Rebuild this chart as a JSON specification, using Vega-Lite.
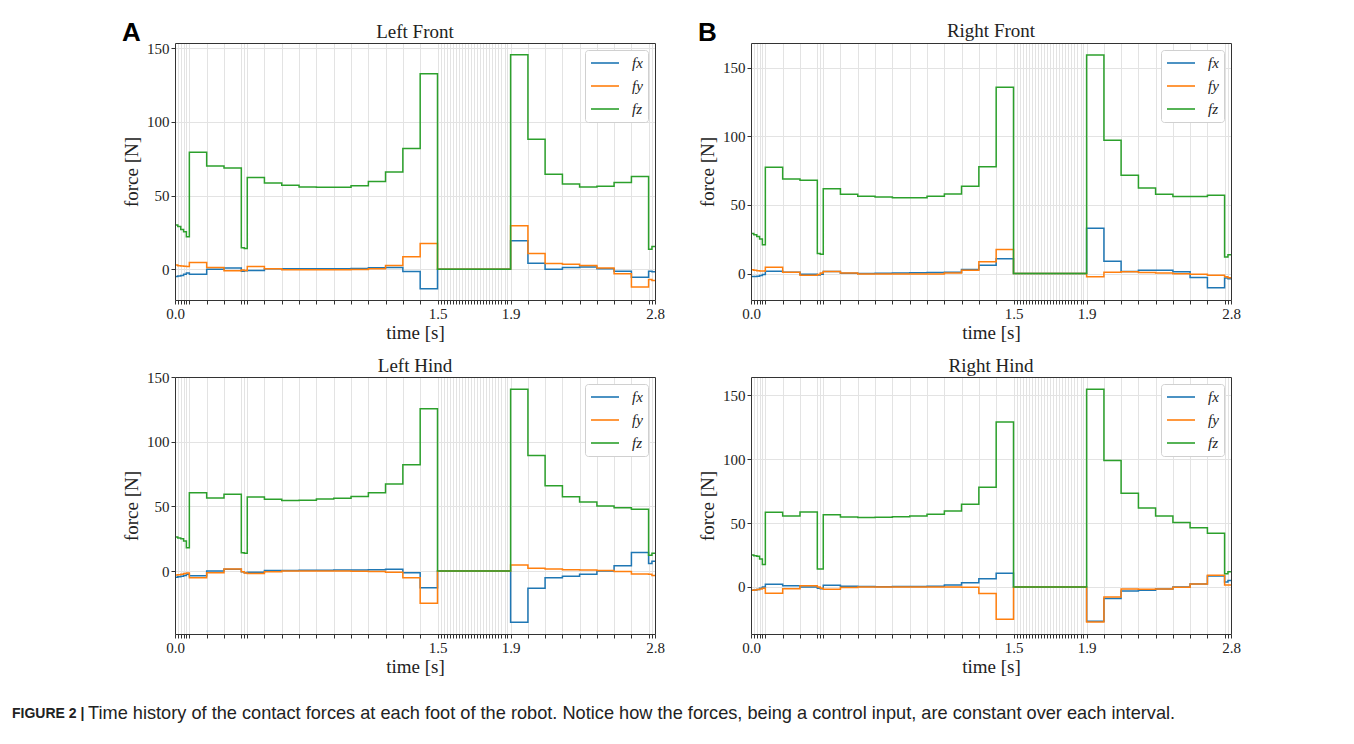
{
  "$schema": "https://vega.github.io/schema/vega-lite/v6.json",
  "background": "white",
  "padding": {"left": 12, "top": 19, "right": 5, "bottom": 8},
  "datasets": {
    "forces": [
      {"p":"LF","t":0,"fx":-5,"fy":2.8,"fz":30},
      {"p":"LF","t":0.016,"fx":-4.6,"fy":2.4,"fz":29},
      {"p":"LF","t":0.033,"fx":-4.2,"fy":2.2,"fz":27},
      {"p":"LF","t":0.049,"fx":-3.4,"fy":2,"fz":25.5},
      {"p":"LF","t":0.065,"fx":-2.5,"fy":1.8,"fz":22},
      {"p":"LF","t":0.082,"fx":-3.4,"fy":4.5,"fz":79.4},
      {"p":"LF","t":0.181,"fx":0,"fy":1.1,"fz":70.1},
      {"p":"LF","t":0.28,"fx":0.9,"fy":-1.1,"fz":68.8},
      {"p":"LF","t":0.379,"fx":-1.4,"fy":-0.5,"fz":14.5},
      {"p":"LF","t":0.396,"fx":-1,"fy":-0.8,"fz":14},
      {"p":"LF","t":0.413,"fx":-0.8,"fy":1.8,"fz":62.2},
      {"p":"LF","t":0.511,"fx":0.3,"fy":0.3,"fz":58.6},
      {"p":"LF","t":0.61,"fx":0.3,"fy":-0.3,"fz":57},
      {"p":"LF","t":0.709,"fx":0.3,"fy":-0.4,"fz":55.8},
      {"p":"LF","t":0.808,"fx":0.4,"fy":-0.4,"fz":55.6},
      {"p":"LF","t":0.907,"fx":0.4,"fy":-0.3,"fz":55.7},
      {"p":"LF","t":1.006,"fx":0.5,"fy":-0.2,"fz":56.7},
      {"p":"LF","t":1.105,"fx":1,"fy":0.3,"fz":59.5},
      {"p":"LF","t":1.203,"fx":1.2,"fy":2.5,"fz":66},
      {"p":"LF","t":1.302,"fx":-1.5,"fy":8.4,"fz":82},
      {"p":"LF","t":1.401,"fx":-13.2,"fy":17.5,"fz":132.8},
      {"p":"LF","t":1.5,"fx":0,"fy":0,"fz":0},
      {"p":"LF","t":1.9,"fx":19.3,"fy":29.5,"fz":145.7},
      {"p":"LF","t":2.008,"fx":4.1,"fy":10.7,"fz":88.3},
      {"p":"LF","t":2.115,"fx":0,"fy":3.8,"fz":64.5},
      {"p":"LF","t":2.223,"fx":1.1,"fy":3.3,"fz":57.9},
      {"p":"LF","t":2.33,"fx":1.5,"fy":2.5,"fz":55.8},
      {"p":"LF","t":2.438,"fx":0.3,"fy":0.8,"fz":56.3},
      {"p":"LF","t":2.545,"fx":-1.4,"fy":-3,"fz":58.8},
      {"p":"LF","t":2.653,"fx":-5.4,"fy":-12,"fz":62.9},
      {"p":"LF","t":2.76,"fx":-1.3,"fy":-7,"fz":13.6},
      {"p":"LF","t":2.781,"fx":-1.8,"fy":-7.7,"fz":15.4},
      {"p":"LF","t":2.8,"fx":-1.8,"fy":-7.7,"fz":15.4},

      {"p":"RF","t":0,"fx":-2.2,"fy":2.7,"fz":29.1},
      {"p":"RF","t":0.016,"fx":-2.2,"fy":2.3,"fz":28.2},
      {"p":"RF","t":0.033,"fx":-2,"fy":2,"fz":27},
      {"p":"RF","t":0.049,"fx":-1.5,"fy":1.9,"fz":25.2},
      {"p":"RF","t":0.065,"fx":-0.8,"fy":1.9,"fz":20.9},
      {"p":"RF","t":0.082,"fx":1.7,"fy":4.6,"fz":77.4},
      {"p":"RF","t":0.181,"fx":1,"fy":1,"fz":68.9},
      {"p":"RF","t":0.28,"fx":-0.5,"fy":-1.2,"fz":68},
      {"p":"RF","t":0.379,"fx":-1,"fy":-0.8,"fz":14.6},
      {"p":"RF","t":0.396,"fx":-0.5,"fy":0.3,"fz":14.1},
      {"p":"RF","t":0.413,"fx":1.5,"fy":1.5,"fz":61.7},
      {"p":"RF","t":0.511,"fx":0.2,"fy":0.3,"fz":57.8},
      {"p":"RF","t":0.61,"fx":0.1,"fy":-0.3,"fz":56.3},
      {"p":"RF","t":0.709,"fx":0.2,"fy":-0.3,"fz":55.8},
      {"p":"RF","t":0.808,"fx":0.3,"fy":-0.3,"fz":55.3},
      {"p":"RF","t":0.907,"fx":0.5,"fy":-0.3,"fz":55.3},
      {"p":"RF","t":1.006,"fx":0.8,"fy":-0.3,"fz":56.3},
      {"p":"RF","t":1.105,"fx":1,"fy":0.3,"fz":58},
      {"p":"RF","t":1.203,"fx":2.9,"fy":2.4,"fz":63.6},
      {"p":"RF","t":1.302,"fx":6.1,"fy":8.5,"fz":77.9},
      {"p":"RF","t":1.401,"fx":10.7,"fy":17.5,"fz":135.7},
      {"p":"RF","t":1.5,"fx":0,"fy":0,"fz":0},
      {"p":"RF","t":1.9,"fx":33,"fy":-2.4,"fz":159.2},
      {"p":"RF","t":2.008,"fx":9,"fy":1,"fz":97.1},
      {"p":"RF","t":2.115,"fx":1.5,"fy":1.2,"fz":71.6},
      {"p":"RF","t":2.223,"fx":2.4,"fy":0.8,"fz":62.4},
      {"p":"RF","t":2.33,"fx":2.4,"fy":0.3,"fz":57.8},
      {"p":"RF","t":2.438,"fx":1.2,"fy":-0.2,"fz":56.1},
      {"p":"RF","t":2.545,"fx":-2.9,"fy":-0.5,"fz":56.2},
      {"p":"RF","t":2.653,"fx":-10.4,"fy":-1.3,"fz":57},
      {"p":"RF","t":2.76,"fx":-3.2,"fy":-2.4,"fz":12.1},
      {"p":"RF","t":2.781,"fx":-3.9,"fy":-3,"fz":13.6},
      {"p":"RF","t":2.8,"fx":-3.9,"fy":-3,"fz":13.6},

      {"p":"LH","t":0,"fx":-4.9,"fy":-3.1,"fz":26.3},
      {"p":"LH","t":0.016,"fx":-4.5,"fy":-2.8,"fz":25.5},
      {"p":"LH","t":0.033,"fx":-4,"fy":-2.5,"fz":25},
      {"p":"LH","t":0.049,"fx":-3.5,"fy":-2,"fz":23.2},
      {"p":"LH","t":0.065,"fx":-2.5,"fy":-1.5,"fz":18},
      {"p":"LH","t":0.082,"fx":-3.6,"fy":-5.2,"fz":60.6},
      {"p":"LH","t":0.181,"fx":0,"fy":-1.3,"fz":56.4},
      {"p":"LH","t":0.28,"fx":1.3,"fy":1.5,"fz":59.3},
      {"p":"LH","t":0.379,"fx":-0.5,"fy":-0.5,"fz":14.2},
      {"p":"LH","t":0.396,"fx":-1.3,"fy":-1.5,"fz":13.8},
      {"p":"LH","t":0.413,"fx":-1,"fy":-2,"fz":57.2},
      {"p":"LH","t":0.511,"fx":0.3,"fy":-0.5,"fz":55.4},
      {"p":"LH","t":0.61,"fx":0.4,"fy":0,"fz":54.6},
      {"p":"LH","t":0.709,"fx":0.5,"fy":0,"fz":54.8},
      {"p":"LH","t":0.808,"fx":0.6,"fy":0,"fz":55.7},
      {"p":"LH","t":0.907,"fx":0.8,"fy":0,"fz":56.2},
      {"p":"LH","t":1.006,"fx":0.8,"fy":-0.2,"fz":57.7},
      {"p":"LH","t":1.105,"fx":1,"fy":-0.3,"fz":60.6},
      {"p":"LH","t":1.203,"fx":1.3,"fy":-1,"fz":67.3},
      {"p":"LH","t":1.302,"fx":-1.3,"fy":-5.2,"fz":82.2},
      {"p":"LH","t":1.401,"fx":-12.9,"fy":-25,"fz":125.5},
      {"p":"LH","t":1.5,"fx":0,"fy":0,"fz":0},
      {"p":"LH","t":1.9,"fx":-39.7,"fy":4.6,"fz":140.5},
      {"p":"LH","t":2.008,"fx":-13.4,"fy":2.1,"fz":89.4},
      {"p":"LH","t":2.115,"fx":-5.2,"fy":1.5,"fz":66},
      {"p":"LH","t":2.223,"fx":-4.1,"fy":1,"fz":57.5},
      {"p":"LH","t":2.33,"fx":-2.6,"fy":0.7,"fz":53.4},
      {"p":"LH","t":2.438,"fx":0,"fy":0.3,"fz":50.3},
      {"p":"LH","t":2.545,"fx":4.1,"fy":-0.3,"fz":49},
      {"p":"LH","t":2.653,"fx":14.4,"fy":-2.3,"fz":47.7},
      {"p":"LH","t":2.76,"fx":5.9,"fy":-2.5,"fz":12.1},
      {"p":"LH","t":2.781,"fx":7.5,"fy":-3.5,"fz":13.7},
      {"p":"LH","t":2.8,"fx":7.5,"fy":-3.5,"fz":13.7},

      {"p":"RH","t":0,"fx":-2.6,"fy":-2.6,"fz":25},
      {"p":"RH","t":0.016,"fx":-2.3,"fy":-2.3,"fz":24.5},
      {"p":"RH","t":0.033,"fx":-2,"fy":-2,"fz":24},
      {"p":"RH","t":0.049,"fx":-1,"fy":-1.5,"fz":21.9},
      {"p":"RH","t":0.065,"fx":0,"fy":-1,"fz":17.5},
      {"p":"RH","t":0.082,"fx":2.1,"fy":-5,"fz":58.4},
      {"p":"RH","t":0.181,"fx":1,"fy":-1.3,"fz":55.6},
      {"p":"RH","t":0.28,"fx":0,"fy":1,"fz":58.7},
      {"p":"RH","t":0.379,"fx":-1,"fy":0,"fz":14.1},
      {"p":"RH","t":0.396,"fx":-1.3,"fy":-1,"fz":14},
      {"p":"RH","t":0.413,"fx":1.3,"fy":-1.8,"fz":56.6},
      {"p":"RH","t":0.511,"fx":0.5,"fy":-0.5,"fz":54.8},
      {"p":"RH","t":0.61,"fx":0.3,"fy":0,"fz":54.3},
      {"p":"RH","t":0.709,"fx":0.2,"fy":0,"fz":54.5},
      {"p":"RH","t":0.808,"fx":0.3,"fy":0,"fz":55},
      {"p":"RH","t":0.907,"fx":0.3,"fy":0,"fz":55.6},
      {"p":"RH","t":1.006,"fx":0.5,"fy":0,"fz":56.9},
      {"p":"RH","t":1.105,"fx":1.6,"fy":0,"fz":59.5},
      {"p":"RH","t":1.203,"fx":3.4,"fy":-0.3,"fz":64.7},
      {"p":"RH","t":1.302,"fx":6.5,"fy":-5.2,"fz":78},
      {"p":"RH","t":1.401,"fx":10.7,"fy":-25.3,"fz":129.1},
      {"p":"RH","t":1.5,"fx":0,"fy":0,"fz":0},
      {"p":"RH","t":1.9,"fx":-26.9,"fy":-27.4,"fz":154.7},
      {"p":"RH","t":2.008,"fx":-9.1,"fy":-7.8,"fz":98.9},
      {"p":"RH","t":2.115,"fx":-3.1,"fy":-1.6,"fz":73.3},
      {"p":"RH","t":2.223,"fx":-2.6,"fy":-1.7,"fz":61.8},
      {"p":"RH","t":2.33,"fx":-1.6,"fy":-1.6,"fz":55.6},
      {"p":"RH","t":2.438,"fx":0,"fy":-0.3,"fz":50.4},
      {"p":"RH","t":2.545,"fx":2.3,"fy":2.3,"fz":46.4},
      {"p":"RH","t":2.653,"fx":8.6,"fy":9.1,"fz":42},
      {"p":"RH","t":2.76,"fx":3.9,"fy":1.6,"fz":10.4},
      {"p":"RH","t":2.781,"fx":5,"fy":1.6,"fz":12},
      {"p":"RH","t":2.8,"fx":5,"fy":1.6,"fz":12}
    ]
  },
  "title": {
    "text": "Time history of the contact forces at each foot of the robot. Notice how the forces, being a control input, are constant over each interval.",
    "orient": "bottom", "anchor": "start", "frame": "group",
    "font": "Liberation Sans", "fontSize": 18.2, "fontWeight": "normal", "color": "#222222",
    "dx": -87, "dy": -16, "offset": 0
  },
  "vconcat": [
    {
      "title": {
        "text": "FIGURE 2 |", "orient": "bottom", "anchor": "start", "frame": "group",
        "font": "Liberation Sans", "fontSize": 14, "fontWeight": "bold", "color": "#222222",
        "dx": -163, "offset": 30
      },
      "spacing": 13,
      "resolve": {"scale": {"x": "independent", "y": "independent", "color": "independent"}, "legend": {"color": "independent"}},
      "vconcat": [
        {
          "hconcat": [
            {
              "title": {"text": "A", "anchor": "start", "frame": "bounds", "font": "Liberation Sans", "fontSize": 26, "fontWeight": "bold", "color": "#000000", "dy": 23, "offset": 0},
              "resolve": {"scale": {"x": "independent", "y": "independent", "color": "independent"}, "legend": {"color": "independent"}},
              "vconcat": [
                {
                  "width": 480, "height": 257,
                  "title": {"text": "Left Front", "offset": -1},
                  "data": {"name": "forces"},
                  "transform": [{"filter": "datum.p === 'LF'"}, {"fold": ["fx", "fy", "fz"], "as": ["s", "v"]}],
                  "mark": {"type": "line", "interpolate": "step-after", "strokeWidth": 1.5},
                  "encoding": {
                    "x": {"field": "t", "type": "quantitative",
                      "scale": {"domain": [0, 1.5, 1.9, 2.8], "range": [0, 262.5, 335.6, 480]},
                      "axis": {"title": "time [s]", "values": [0,0.016,0.033,0.049,0.065,0.082,0.181,0.28,0.379,0.396,0.413,0.511,0.61,0.709,0.808,0.907,1.006,1.105,1.203,1.302,1.401,1.5,1.517,1.533,1.55,1.567,1.583,1.6,1.617,1.633,1.65,1.667,1.683,1.7,1.717,1.733,1.75,1.767,1.783,1.8,1.817,1.833,1.85,1.867,1.883,1.9,2.008,2.115,2.223,2.33,2.438,2.545,2.653,2.76,2.781,2.8],
                        "gridColor": {"condition": {"test": "datum.value === 0 || datum.value === 2.8", "value": "transparent"}, "value": "#e3e3e3"},
                        "labelExpr": "datum.value === 0 || datum.value === 1.5 || datum.value === 1.9 || datum.value === 2.8 ? format(datum.value, '.1f') : ''"}},
                    "y": {"field": "v", "type": "quantitative",
                      "scale": {"domain": [-20.9, 153.6], "nice": false, "zero": false},
                      "axis": {"title": "force [N]", "values": [0, 50, 100, 150]}},
                    "color": {"field": "s", "type": "nominal",
                      "scale": {"domain": ["fx", "fy", "fz"], "range": ["#1f77b4", "#ff7f0e", "#2ca02c"]}}
                  }
                }
              ]
            },
            {
              "title": {"text": "B", "anchor": "start", "frame": "bounds", "font": "Liberation Sans", "fontSize": 26, "fontWeight": "bold", "color": "#000000", "dy": 24, "offset": 0},
              "resolve": {"scale": {"x": "independent", "y": "independent", "color": "independent"}, "legend": {"color": "independent"}},
              "vconcat": [
                {
                  "width": 480, "height": 257,
                  "title": {"text": "Right Front", "offset": 2},
                  "data": {"name": "forces"},
                  "transform": [{"filter": "datum.p === 'RF'"}, {"fold": ["fx", "fy", "fz"], "as": ["s", "v"]}],
                  "mark": {"type": "line", "interpolate": "step-after", "strokeWidth": 1.5},
                  "encoding": {
                    "x": {"field": "t", "type": "quantitative",
                      "scale": {"domain": [0, 1.5, 1.9, 2.8], "range": [0, 262.5, 335.6, 480]},
                      "axis": {"title": "time [s]", "values": [0,0.016,0.033,0.049,0.065,0.082,0.181,0.28,0.379,0.396,0.413,0.511,0.61,0.709,0.808,0.907,1.006,1.105,1.203,1.302,1.401,1.5,1.517,1.533,1.55,1.567,1.583,1.6,1.617,1.633,1.65,1.667,1.683,1.7,1.717,1.733,1.75,1.767,1.783,1.8,1.817,1.833,1.85,1.867,1.883,1.9,2.008,2.115,2.223,2.33,2.438,2.545,2.653,2.76,2.781,2.8],
                        "gridColor": {"condition": {"test": "datum.value === 0 || datum.value === 2.8", "value": "transparent"}, "value": "#e3e3e3"},
                        "labelExpr": "datum.value === 0 || datum.value === 1.5 || datum.value === 1.9 || datum.value === 2.8 ? format(datum.value, '.1f') : ''"}},
                    "y": {"field": "v", "type": "quantitative",
                      "scale": {"domain": [-19.3, 168], "nice": false, "zero": false},
                      "axis": {"title": "force [N]", "values": [0, 50, 100, 150]}},
                    "color": {"field": "s", "type": "nominal",
                      "scale": {"domain": ["fx", "fy", "fz"], "range": ["#1f77b4", "#ff7f0e", "#2ca02c"]}}
                  }
                }
              ]
            }
          ],
          "spacing": 33,
          "resolve": {"scale": {"x": "independent", "y": "independent", "color": "independent"}, "legend": {"color": "independent"}}
        },
        {
          "hconcat": [
            {
              "width": 480, "height": 257,
              "title": {"text": "Left Hind", "offset": -6},
              "data": {"name": "forces"},
              "transform": [{"filter": "datum.p === 'LH'"}, {"fold": ["fx", "fy", "fz"], "as": ["s", "v"]}],
              "mark": {"type": "line", "interpolate": "step-after", "strokeWidth": 1.5},
              "encoding": {
                "x": {"field": "t", "type": "quantitative",
                  "scale": {"domain": [0, 1.5, 1.9, 2.8], "range": [0, 262.5, 335.6, 480]},
                  "axis": {"title": "time [s]", "values": [0,0.016,0.033,0.049,0.065,0.082,0.181,0.28,0.379,0.396,0.413,0.511,0.61,0.709,0.808,0.907,1.006,1.105,1.203,1.302,1.401,1.5,1.517,1.533,1.55,1.567,1.583,1.6,1.617,1.633,1.65,1.667,1.683,1.7,1.717,1.733,1.75,1.767,1.783,1.8,1.817,1.833,1.85,1.867,1.883,1.9,2.008,2.115,2.223,2.33,2.438,2.545,2.653,2.76,2.781,2.8],
                    "gridColor": {"condition": {"test": "datum.value === 0 || datum.value === 2.8", "value": "transparent"}, "value": "#e3e3e3"},
                    "labelExpr": "datum.value === 0 || datum.value === 1.5 || datum.value === 1.9 || datum.value === 2.8 ? format(datum.value, '.1f') : ''"}},
                "y": {"field": "v", "type": "quantitative",
                  "scale": {"domain": [-48.7, 150], "nice": false, "zero": false},
                  "axis": {"title": "force [N]", "values": [0, 50, 100, 150],
                    "gridColor": {"condition": {"test": "datum.value === 150", "value": "transparent"}, "value": "#e3e3e3"}}},
                "color": {"field": "s", "type": "nominal",
                  "scale": {"domain": ["fx", "fy", "fz"], "range": ["#1f77b4", "#ff7f0e", "#2ca02c"]}}
              }
            },
            {
              "width": 480, "height": 257,
              "title": {"text": "Right Hind", "offset": 1},
              "data": {"name": "forces"},
              "transform": [{"filter": "datum.p === 'RH'"}, {"fold": ["fx", "fy", "fz"], "as": ["s", "v"]}],
              "mark": {"type": "line", "interpolate": "step-after", "strokeWidth": 1.5},
              "encoding": {
                "x": {"field": "t", "type": "quantitative",
                  "scale": {"domain": [0, 1.5, 1.9, 2.8], "range": [0, 262.5, 335.6, 480]},
                  "axis": {"title": "time [s]", "values": [0,0.016,0.033,0.049,0.065,0.082,0.181,0.28,0.379,0.396,0.413,0.511,0.61,0.709,0.808,0.907,1.006,1.105,1.203,1.302,1.401,1.5,1.517,1.533,1.55,1.567,1.583,1.6,1.617,1.633,1.65,1.667,1.683,1.7,1.717,1.733,1.75,1.767,1.783,1.8,1.817,1.833,1.85,1.867,1.883,1.9,2.008,2.115,2.223,2.33,2.438,2.545,2.653,2.76,2.781,2.8],
                    "gridColor": {"condition": {"test": "datum.value === 0 || datum.value === 2.8", "value": "transparent"}, "value": "#e3e3e3"},
                    "labelExpr": "datum.value === 0 || datum.value === 1.5 || datum.value === 1.9 || datum.value === 2.8 ? format(datum.value, '.1f') : ''"}},
                "y": {"field": "v", "type": "quantitative",
                  "scale": {"domain": [-36.8, 164.3], "nice": false, "zero": false},
                  "axis": {"title": "force [N]", "values": [0, 50, 100, 150]}},
                "color": {"field": "s", "type": "nominal",
                  "scale": {"domain": ["fx", "fy", "fz"], "range": ["#1f77b4", "#ff7f0e", "#2ca02c"]}}
              }
            }
          ],
          "spacing": 33,
          "resolve": {"scale": {"x": "independent", "y": "independent", "color": "independent"}, "legend": {"color": "independent"}}
        }
      ]
    }
  ],
  "resolve": {"scale": {"x": "independent", "y": "independent", "color": "independent"}, "legend": {"color": "independent"}},
  "config": {
    "font": "Liberation Serif",
    "view": {"stroke": "#333333", "strokeWidth": 1},
    "style": {"cell": {"strokeForeground": true}},
    "axis": {
      "labelFont": "Liberation Serif", "labelFontSize": 15, "labelColor": "#222222",
      "titleFont": "Liberation Serif", "titleFontSize": 19, "titleFontWeight": "normal", "titleColor": "#222222",
      "tickColor": "#333333", "tickSize": 4, "domain": false,
      "gridColor": "#e3e3e3", "gridWidth": 1, "labelPadding": 2
    },
    "axisX": {"titlePadding": 2, "labelFlush": false, "labelOverlap": false, "labelBound": false},
    "axisY": {"titlePadding": 5, "labelOverlap": false},
    "title": {"font": "Liberation Serif", "fontSize": 19, "fontWeight": "normal", "color": "#222222", "offset": 2, "frame": "group", "anchor": "middle"},
    "legend": {
      "orient": "top-right", "offset": 7, "title": null, "padding": 5,
      "strokeColor": "#d0d0d0", "fillColor": "#ffffff", "cornerRadius": 3,
      "symbolType": "M-1,0H3", "symbolSize": 196, "symbolStrokeWidth": 1.6,
      "labelFont": "Liberation Serif", "labelFontStyle": "italic", "labelFontSize": 15,
      "labelColor": "#222222", "labelOffset": 26, "rowPadding": 7
    }
  }
}
